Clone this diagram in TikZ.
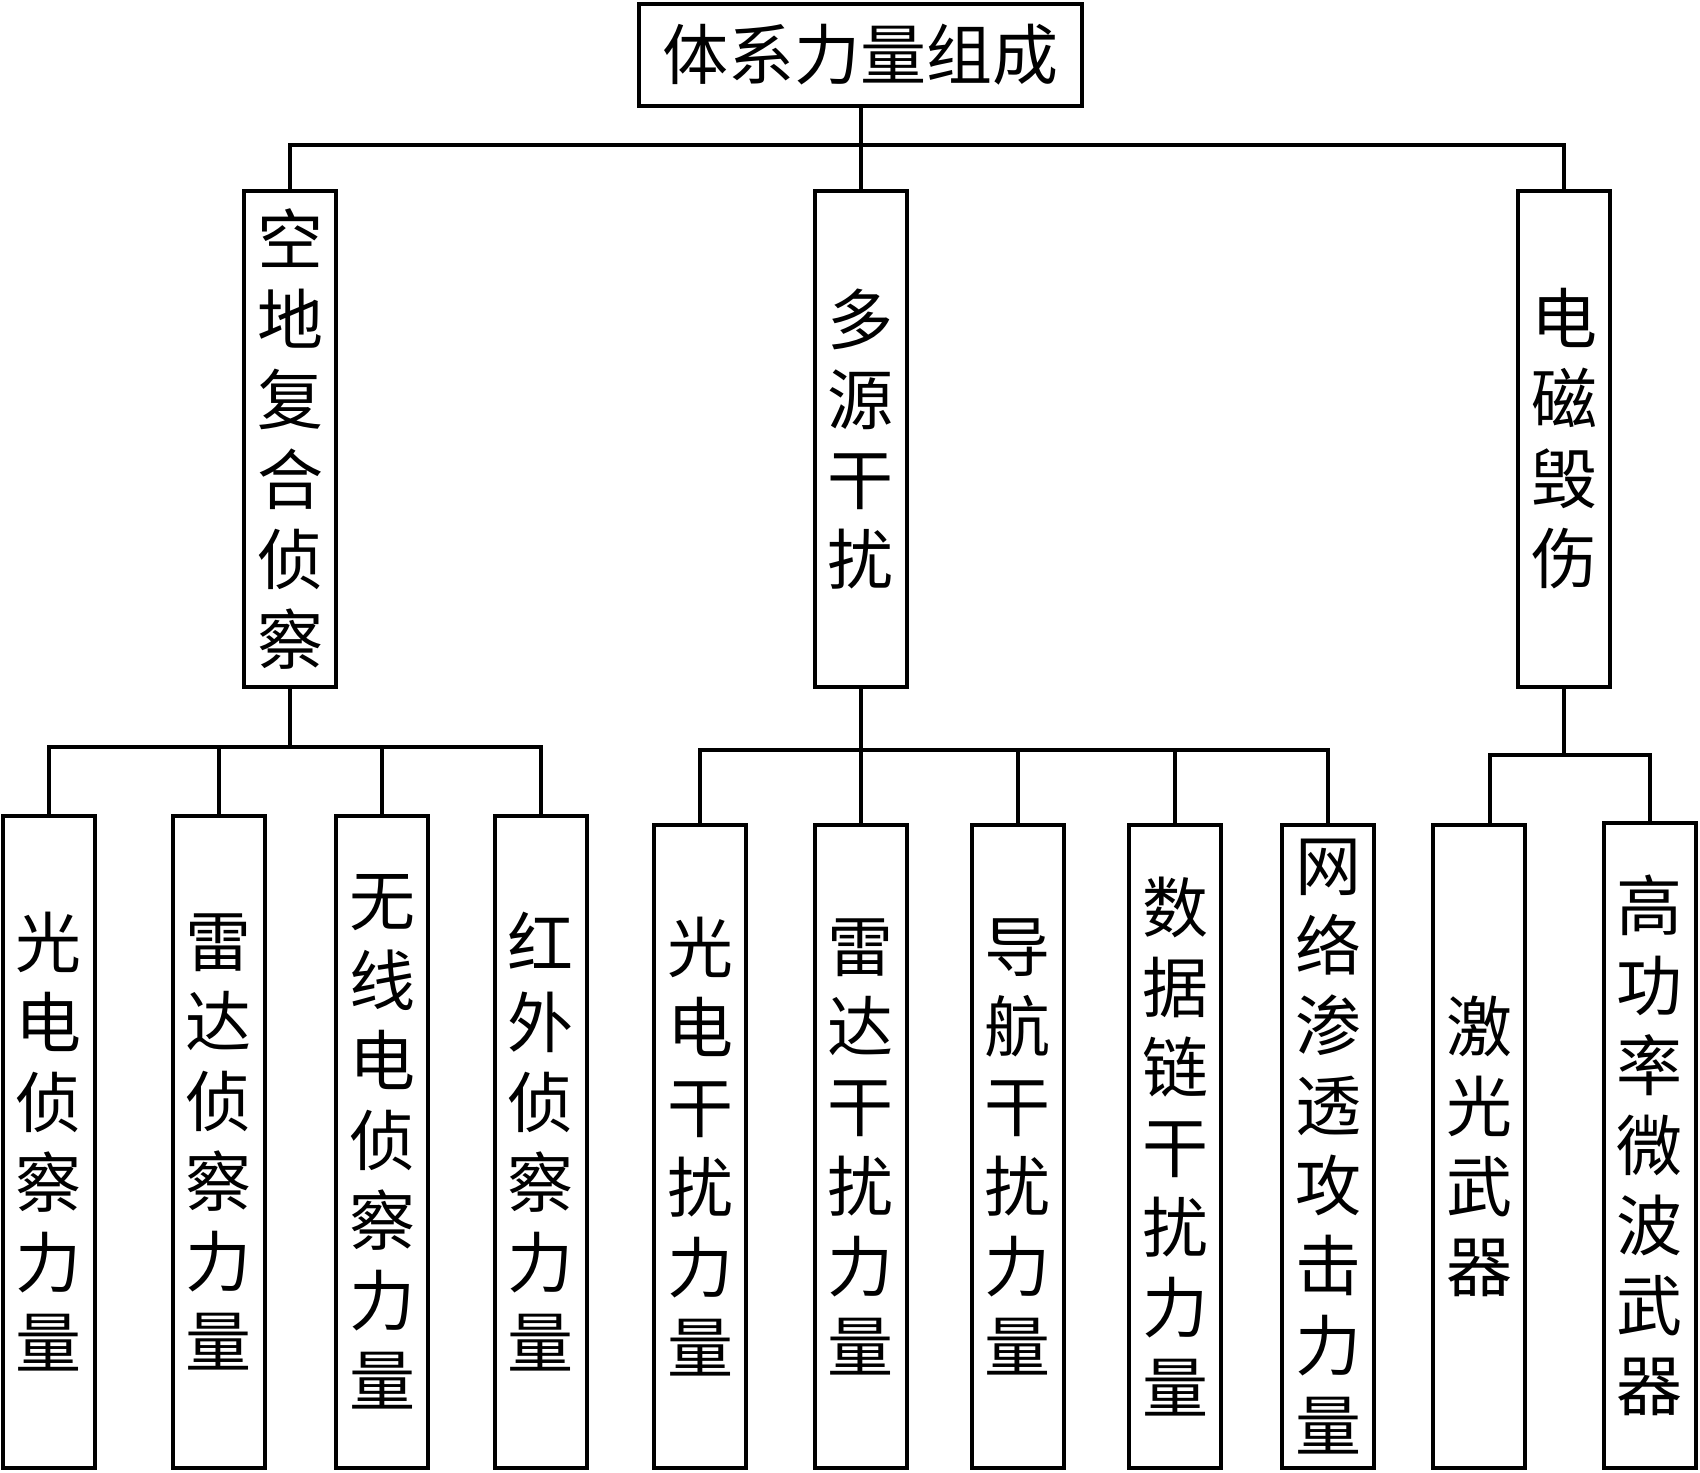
\documentclass[tikz,border=0pt]{standalone}
\usepackage{fontspec}
\newfontfamily\cjk{Noto Sans CJK SC}
\begin{document}
\begin{tikzpicture}[x=0.5pt,y=-0.5pt,
  box/.style={draw,line width=2pt,inner sep=0pt,align=center,
    font=\cjk\fontsize{33}{40}\selectfont},
  lvtwo/.style={box,minimum width=46pt,minimum height=248pt},
  lvthree/.style={box,minimum width=46pt,minimum height=321.5pt},
  conn/.style={line width=2pt}]
\useasboundingbox (0,0) rectangle (1700,1472);
% root
\node[box,minimum width=221.5pt,minimum height=51pt] (root) at (860.5,54.5) {体系力量组成};
% level 2
\node[lvtwo] (A) at (290,439) {空\\地\\复\\合\\侦\\察};
\node[lvtwo] (B) at (860.5,439) {多\\源\\干\\扰};
\node[lvtwo] (C) at (1564,439) {电\\磁\\毁\\伤};
% level 3 left
\node[lvthree,minimum height=326pt] (L1) at (48.75,1142) {光\\电\\侦\\察\\力\\量};
\node[lvthree,minimum height=326pt] (L2) at (218.5,1142) {雷\\达\\侦\\察\\力\\量};
\node[lvthree,minimum height=326pt] (L3) at (382,1142) {无\\线\\电\\侦\\察\\力\\量};
\node[lvthree,minimum height=326pt] (L4) at (540.5,1142) {红\\外\\侦\\察\\力\\量};
% level 3 middle
\node[lvthree] (M1) at (700,1146.5) {光\\电\\干\\扰\\力\\量};
\node[lvthree] (M2) at (860.5,1146.5) {雷\\达\\干\\扰\\力\\量};
\node[lvthree] (M3) at (1017.5,1146.5) {导\\航\\干\\扰\\力\\量};
\node[lvthree] (M4) at (1175,1146.5) {数\\据\\链\\干\\扰\\力\\量};
\node[lvthree] (M5) at (1328,1146.5) {网\\络\\渗\\透\\攻\\击\\力\\量};
% level 3 right
\node[lvthree] (R1) at (1479,1146.5) {激\\光\\武\\器};
\node[lvthree,minimum height=322.5pt] (R2) at (1649.5,1145.5) {高\\功\\率\\微\\波\\武\\器};
% buses
\coordinate (busT) at (0,145);
\coordinate (busL) at (0,747);
\coordinate (busM) at (0,750);
\coordinate (busR) at (1490,755);
% root connectors
\draw[conn] (root.south) -- (B.north);
\draw[conn] (A.north) -- (A.north |- busT) -- (C.north |- busT) -- (C.north);
% left group
\draw[conn] (A.south) -- (A.south |- busL);
\draw[conn] (L1.north) -- (L1.north |- busL) -- (L4.north |- busL) -- (L4.north);
\draw[conn] (L2.north) -- (L2.north |- busL);
\draw[conn] (L3.north) -- (L3.north |- busL);
% middle group
\draw[conn] (B.south) -- (M2.north);
\draw[conn] (M1.north) -- (M1.north |- busM) -- (M5.north |- busM) -- (M5.north);
\draw[conn] (M3.north) -- (M3.north |- busM);
\draw[conn] (M4.north) -- (M4.north |- busM);
% right group
\draw[conn] (C.south) -- (C.south |- busR);
\draw[conn] (busR |- R1.north) -- (busR) -- (R2.north |- busR) -- (R2.north);
\end{tikzpicture}
\end{document}
